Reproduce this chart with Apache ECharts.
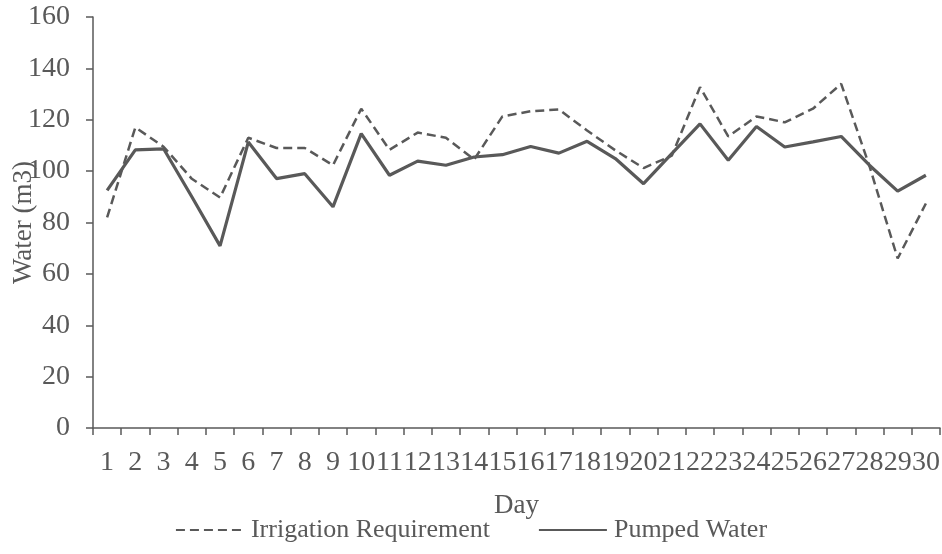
<!DOCTYPE html>
<html>
<head>
<meta charset="utf-8">
<script src="https://cdn.jsdelivr.net/npm/echarts@6/dist/echarts.min.js"></script>
<style>
html,body{margin:0;padding:0;background:#fff;}
#chart{width:942px;height:554px;}
</style>
</head>
<body>
<div id="chart"></div>
<script>
const days = ['1','2','3','4','5','6','7','8','9','10','11','12','13','14','15','16','17','18','19','20','21','22','23','24','25','26','27','28','29','30'];
const irrigationRequirement = [82, 117, 109.5, 97, 89.7, 113, 109, 109, 102.3, 124.3, 108.3, 115, 113, 104.5, 121.3, 123.3, 124, 115.8, 108.1, 101.2, 106, 132.7, 113.5, 121.3, 119, 124.3, 134, 102, 66, 87.4];
const pumpedWater = [92.5, 108.3, 108.7, 90, 70.9, 111.3, 97.1, 99, 86.1, 114.6, 98.4, 103.9, 102.3, 105.5, 106.4, 109.6, 107, 111.6, 104.9, 95.1, 106.8, 118.4, 104.2, 117.4, 109.4, 111.4, 113.5, 102.3, 92.2, 98.4];
const yTicks = [0, 20, 40, 60, 80, 100, 120, 140, 160];

const FONT = '"Liberation Serif", "DejaVu Serif", serif';
const GRAY = '#595959';
const chart = echarts.init(document.getElementById('chart'));
chart.setOption({
  animation: false,
  backgroundColor: '#fff',
  textStyle: { fontFamily: FONT },
  grid: { left: 93, right: 2, top: 17, bottom: 126, containLabel: false, outerBoundsMode: 'none' },
  legend: {
    bottom: 6,
    left: 'center',
    itemWidth: 68,
    itemHeight: 14,
    itemGap: 48,
    itemStyle: { opacity: 0 },
    textStyle: { fontFamily: FONT, fontSize: 26, color: GRAY, padding: [0,0,0,2] },
    data: ['Irrigation Requirement', 'Pumped Water']
  },
  xAxis: {
    type: 'category',
    data: days,
    boundaryGap: true,
    name: 'Day',
    nameLocation: 'middle',
    nameGap: 64,
    nameMoveOverlap: false,
    nameTextStyle: { fontFamily: FONT, fontSize: 27, color: GRAY },
    axisLine: { lineStyle: { color: GRAY, width: 1.5 } },
    axisTick: { show: true, length: 7, inside: false, alignWithLabel: false, lineStyle: { color: GRAY, width: 1.5 } },
    axisLabel: { fontFamily: FONT, fontSize: 28, color: GRAY, margin: 21, interval: 0, hideOverlap: false },
    splitLine: { show: false }
  },
  yAxis: {
    type: 'value',
    min: yTicks[0],
    max: yTicks[yTicks.length - 1],
    interval: 20,
    name: 'Water (m3)',
    nameLocation: 'middle',
    nameRotate: 90,
    nameGap: 56,
    nameMoveOverlap: false,
    nameTextStyle: { fontFamily: FONT, fontSize: 27, color: GRAY },
    axisLine: { show: true, lineStyle: { color: GRAY, width: 1.5 } },
    axisTick: { show: true, length: 7, lineStyle: { color: GRAY, width: 1.5 } },
    axisLabel: { fontFamily: FONT, fontSize: 28, color: GRAY, margin: 23 },
    splitLine: { show: false }
  },
  series: [
    {
      name: 'Irrigation Requirement',
      type: 'line',
      data: irrigationRequirement,
      symbol: 'none',
      color: GRAY,
      lineStyle: { color: GRAY, width: 2.5, type: [9, 5] }
    },
    {
      name: 'Pumped Water',
      type: 'line',
      data: pumpedWater,
      symbol: 'none',
      color: GRAY,
      lineStyle: { color: GRAY, width: 3.2, type: 'solid' }
    }
  ]
});
</script>
</body>
</html>
